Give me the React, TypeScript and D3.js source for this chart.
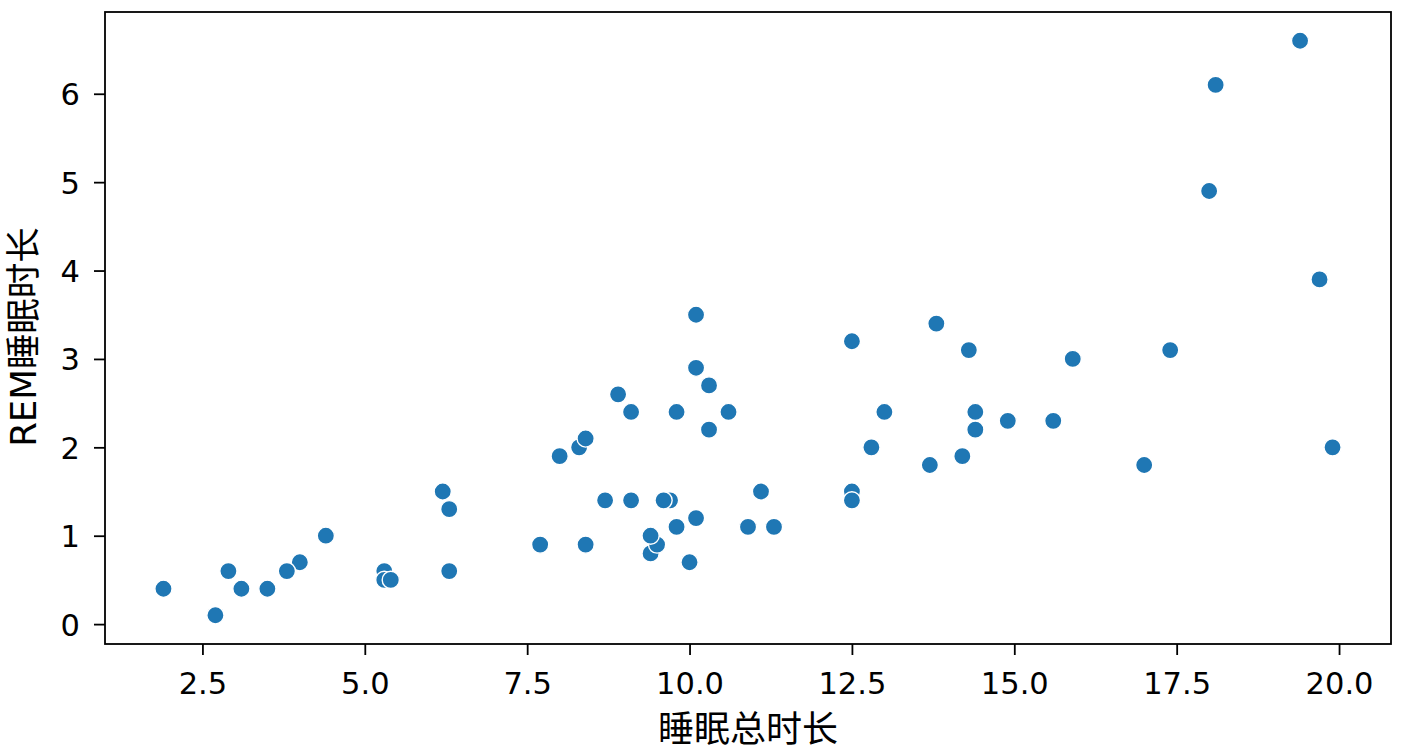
import { useEffect, useRef } from 'react';
import * as d3 from 'd3';

// msleep: total sleep vs REM sleep (rows with REM values)
const sleepTotal = [
  17.0, 14.4, 14.9, 4.0, 14.4, 8.7, 10.1, 5.3, 9.4, 10.0, 12.5, 10.3, 8.3, 9.1, 17.4, 5.3,
  18.0, 19.7, 2.9, 3.1, 10.1, 10.9, 12.5, 9.8, 1.9, 2.7, 6.2, 6.3, 8.0, 9.5, 19.4, 10.1,
  14.2, 14.3, 12.5, 19.9, 7.7, 8.4, 3.8, 9.7, 9.4, 10.3, 13.7, 3.5, 11.1, 18.1, 5.4, 13.0,
  9.6, 8.4, 11.3, 10.6, 13.8, 15.9, 12.8, 9.1, 4.4, 15.6, 8.9, 6.3, 9.8,
];
const sleepRem = [
  1.8, 2.4, 2.3, 0.7, 2.2, 1.4, 2.9, 0.6, 0.8, 0.7, 1.5, 2.2, 2.0, 1.4, 3.1, 0.5,
  4.9, 3.9, 0.6, 0.4, 3.5, 1.1, 3.2, 1.1, 0.4, 0.1, 1.5, 0.6, 1.9, 0.9, 6.6, 1.2,
  1.9, 3.1, 1.4, 2.0, 0.9, 0.9, 0.6, 1.4, 1.0, 2.7, 1.8, 0.4, 1.5, 6.1, 0.5, 2.4,
  1.4, 2.1, 1.1, 2.4, 3.4, 3.0, 2.0, 2.4, 1.0, 2.3, 2.6, 1.3, 2.4,
];
const xTicks = [2.5, 5.0, 7.5, 10.0, 12.5, 15.0, 17.5, 20.0];
const yTicks = [0, 1, 2, 3, 4, 5, 6];
const xLabel = '睡眠总时长';
const yLabel = 'REM睡眠时长';

const App = () => {
  const ref = useRef<SVGSVGElement | null>(null);

  useEffect(() => {
    document.body.style.margin = '0';
    if (!ref.current) return;
    const svg = d3.select(ref.current);
    svg.selectAll('*').remove();

    const width = 1413;
    const height = 752;
    const margin = { top: 12, right: 22, bottom: 108, left: 105 };
    const font = "'DejaVu Sans', 'Noto Sans CJK SC', sans-serif";

    svg.attr('width', width).attr('height', height).style('display', 'block');

    const x = d3
      .scaleLinear()
      .domain([1.0, 20.8])
      .range([margin.left, width - margin.right]);
    const y = d3
      .scaleLinear()
      .domain([-0.225, 6.925])
      .range([height - margin.bottom, margin.top]);

    const data = sleepTotal.map((v, i) => ({ x: v, y: sleepRem[i] }));

    svg
      .append('g')
      .selectAll('circle')
      .data(data)
      .join('circle')
      .attr('cx', (d) => x(d.x))
      .attr('cy', (d) => y(d.y))
      .attr('r', 8.6)
      .attr('fill', '#1f77b4')
      .attr('stroke', '#ffffff')
      .attr('stroke-width', 1.4);

    const xAxis = svg
      .append('g')
      .attr('transform', `translate(0,${height - margin.bottom})`)
      .call(
        d3
          .axisBottom(x)
          .tickValues(xTicks)
          .tickFormat(d3.format('.1f'))
          .tickSize(11)
          .tickPadding(14)
      );
    xAxis.select('.domain').remove();
    xAxis.selectAll('.tick line').attr('stroke', '#000').attr('stroke-width', 1.8);
    xAxis
      .selectAll('.tick text')
      .attr('fill', '#000')
      .attr('font-family', font)
      .attr('font-size', 30.5)
      .attr('dy', null)
      .attr('y', 50);

    const yAxis = svg
      .append('g')
      .attr('transform', `translate(${margin.left},0)`)
      .call(d3.axisLeft(y).tickValues(yTicks).tickFormat(d3.format('d')).tickSize(11).tickPadding(14));
    yAxis.select('.domain').remove();
    yAxis.selectAll('.tick line').attr('stroke', '#000').attr('stroke-width', 1.8);
    yAxis
      .selectAll('.tick text')
      .attr('fill', '#000')
      .attr('font-family', font)
      .attr('font-size', 30.5)
      .attr('dy', '0.36em');

    svg
      .append('rect')
      .attr('x', margin.left)
      .attr('y', margin.top)
      .attr('width', width - margin.left - margin.right)
      .attr('height', height - margin.top - margin.bottom)
      .attr('fill', 'none')
      .attr('stroke', '#000')
      .attr('stroke-width', 1.8);

    svg
      .append('text')
      .attr('x', (margin.left + width - margin.right) / 2)
      .attr('y', 742)
      .attr('text-anchor', 'middle')
      .attr('font-family', font)
      .attr('font-size', 36)
      .attr('fill', '#000')
      .text(xLabel);

    svg
      .append('text')
      .attr('transform', `translate(36,337) rotate(-90)`)
      .attr('text-anchor', 'middle')
      .attr('font-family', font)
      .attr('font-size', 35.5)
      .attr('fill', '#000')
      .text(yLabel);
  }, []);

  return <svg ref={ref} />;
};

export default App;
